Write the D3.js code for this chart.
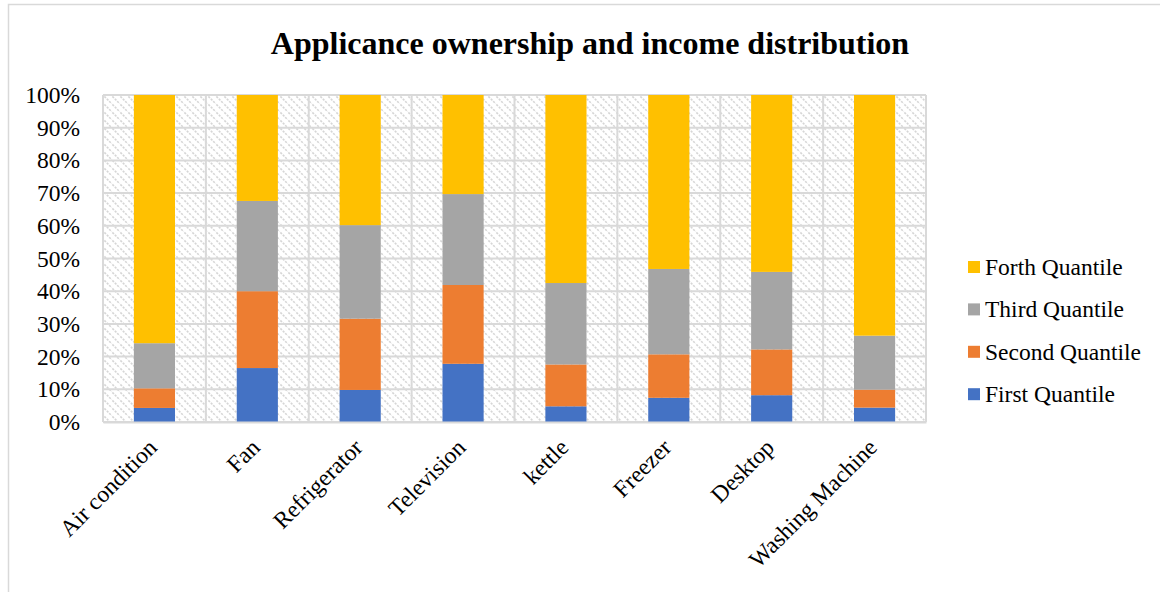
<!DOCTYPE html>
<html><head><meta charset="utf-8">
<script src="https://cdn.jsdelivr.net/npm/d3@7"></script>
<style>body{margin:0;background:#fff;} svg{display:block;}</style>
</head><body>
<svg id="c" width="1160" height="592"></svg>
<script>
const categories = ["Air condition","Fan","Refrigerator","Television","kettle","Freezer","Desktop","Washing Machine"];
const seriesNames = ["First Quantile","Second Quantile","Third Quantile","Forth Quantile"];
const first  = [4.3, 16.5, 9.8, 17.8, 4.8, 7.4, 8.2, 4.4];
const second = [6.0, 23.5, 21.8, 24.1, 12.8, 13.3, 14.0, 5.5];
const third  = [13.8, 27.6, 28.6, 27.8, 24.9, 26.1, 23.7, 16.5];
const fourth = [75.9, 32.4, 39.8, 30.3, 57.5, 53.2, 54.1, 73.6];
const yTicks = [0,10,20,30,40,50,60,70,80,90,100];
const colors = ["#4472C4","#ED7D31","#A5A5A5","#FFC000"];

const svg = d3.select("#c");
const font = "'Liberation Serif','Times New Roman',serif";
const rows = categories.map((c,i)=>({cat:c, "First Quantile":first[i], "Second Quantile":second[i], "Third Quantile":third[i], "Forth Quantile":fourth[i]}));
const stack = d3.stack().keys(seriesNames)(rows);

const L=103, R=926, T=95, B=422;
const x = d3.scaleBand().domain(categories).range([L,R]).paddingInner(0.6).paddingOuter(0.3);
const xb = d3.scaleBand().domain(categories).range([L,R]);
const y = d3.scaleLinear().domain([0,100]).range([B,T]);

// outer frame
svg.append("rect").attr("x",8.5).attr("y",4.5).attr("width",1200).attr("height",700)
  .attr("fill","#fff").attr("stroke","#d9d9d9").attr("stroke-width",1.5);

// hatch pattern
const defs = svg.append("defs");
const pat = defs.append("pattern").attr("id","hatch").attr("patternUnits","userSpaceOnUse")
  .attr("width",8).attr("height",8);
pat.append("rect").attr("width",8).attr("height",8).attr("fill","#fff");
pat.append("path").attr("d","M-2,-2 L10,10 M-2,6 L2,10 M6,-2 L10,2").attr("stroke","#d6d6d6").attr("stroke-width",1.6)
  .attr("stroke-dasharray","2.2,1.2");

svg.append("rect").attr("x",L).attr("y",T).attr("width",R-L).attr("height",B-T).attr("fill","url(#hatch)");

// grid
const g = svg.append("g");
g.selectAll("line.h").data(yTicks).join("line").attr("class","h")
  .attr("x1",L).attr("x2",R).attr("y1",d=>y(d)).attr("y2",d=>y(d))
  .attr("stroke","#d9d9d9").attr("stroke-width",2);
const vx = categories.map(c=>xb(c)).concat([R]);
g.selectAll("line.v").data(vx).join("line").attr("class","v")
  .attr("x1",d=>d).attr("x2",d=>d).attr("y1",T).attr("y2",B)
  .attr("stroke","#d9d9d9").attr("stroke-width",2);

// bars
svg.append("g").selectAll("g").data(stack).join("g").attr("fill",(d,i)=>colors[i])
  .selectAll("rect").data(d=>d).join("rect")
  .attr("x",d=>x(d.data.cat)).attr("width",x.bandwidth())
  .attr("y",d=>y(d[1])).attr("height",d=>y(d[0])-y(d[1]));

// y axis
const yAxis = d3.axisLeft(y).tickValues(yTicks).tickFormat(d=>d+"%").tickSize(0).tickPadding(23);
const ya = svg.append("g").attr("transform",`translate(${L},0)`).call(yAxis);
ya.select(".domain").remove();
ya.selectAll("text").attr("font-family",font).attr("font-size",23.5).attr("fill","#000").attr("dy","0.32em");

// x axis
const xAxis = d3.axisBottom(xb).tickSize(0).tickPadding(0);
const xa = svg.append("g").attr("transform",`translate(0,${B})`).call(xAxis);
xa.select(".domain").attr("stroke","#d9d9d9").attr("stroke-width",2);
xa.selectAll("text").attr("font-family",font).attr("font-size",23.5).attr("fill","#000")
  .attr("text-anchor","end").attr("dy",null).attr("y",null)
  .attr("transform","translate(-8,15) rotate(-45)")
  .attr("dominant-baseline","hanging");

// title
svg.append("text").attr("x",590).attr("y",54).attr("text-anchor","middle")
  .attr("font-family",font).attr("font-weight","bold").attr("font-size",32)
  .text("Applicance ownership and income distribution");

// legend
const leg = svg.append("g");
const order = [3,2,1,0];
order.forEach((si,k)=>{
  const cy = 267 + k*42.4;
  leg.append("rect").attr("x",968).attr("y",cy-6).attr("width",12).attr("height",12).attr("fill",colors[si]);
  leg.append("text").attr("x",985).attr("y",cy).attr("dy","0.33em").attr("font-family",font).attr("font-size",23.5)
    .text(seriesNames[si]);
});
</script>
</body></html>
